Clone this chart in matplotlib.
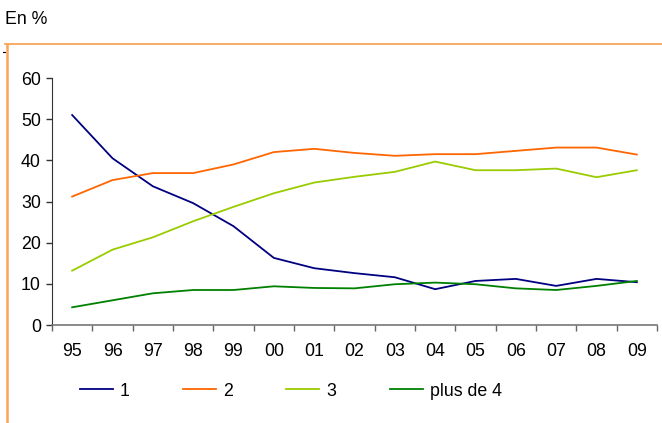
import matplotlib
matplotlib.use("Agg")
import matplotlib.pyplot as plt
from matplotlib.lines import Line2D
import numpy as np

years = ["95", "96", "97", "98", "99", "00", "01", "02", "03", "04", "05", "06", "07", "08", "09"]
s1 = [51.0, 40.5, 33.7, 29.6, 24.0, 16.3, 13.8, 12.6, 11.6, 8.7, 10.7, 11.2, 9.5, 11.2, 10.4]
s2 = [31.2, 35.2, 36.9, 36.9, 39.0, 42.0, 42.8, 41.8, 41.1, 41.5, 41.5, 42.3, 43.1, 43.1, 41.4]
s3 = [13.2, 18.3, 21.3, 25.2, 28.7, 32.0, 34.6, 36.0, 37.2, 39.7, 37.6, 37.6, 38.0, 35.9, 37.6]
s4 = [4.3, 6.0, 7.7, 8.5, 8.5, 9.4, 9.0, 8.9, 9.9, 10.3, 9.9, 8.9, 8.5, 9.5, 10.7]
labels = ["1", "2", "3", "plus de 4"]
colors = ["#000080", "#FF6600", "#99CC00", "#008000"]
yticks = [0, 10, 20, 30, 40, 50, 60]

plt.rcParams["font.family"] = ["Liberation Sans", "DejaVu Sans"]
FS = 12.8
W, H = 662, 423
fig = plt.figure(figsize=(W / 100, H / 100), dpi=100)

ax = fig.add_axes([52 / W, 1 - 325 / H, (657 - 52) / W, (325 - 78) / H])
x = np.arange(len(years))
for s, c, lab in zip([s1, s2, s3, s4], colors, labels):
    ax.plot(x, s, color=c, lw=1.3, label=lab)

ax.set_xlim(-0.5, len(years) - 0.5)
ax.set_ylim(0, 60)
ax.set_yticks(yticks)
ax.set_yticklabels([str(v) for v in yticks], fontsize=FS)
ax.set_xticks(np.arange(len(years) + 1) - 0.5)
ax.set_xticklabels([])
ax.set_xticks(x, minor=True)
ax.set_xticklabels(years, minor=True, fontsize=FS)
ax.tick_params(axis="x", which="minor", length=0, pad=13)
ax.tick_params(axis="x", which="major", length=4, color="#666666", width=1)
ax.tick_params(axis="y", length=4, color="#333333", width=1, pad=4)
for sp in ["top", "right"]:
    ax.spines[sp].set_visible(False)
ax.spines["left"].set_color("#333333")
ax.spines["bottom"].set_color("#777777")
ax.spines["bottom"].set_linewidth(1.2)

fig.text(5 / W, 1 - 20 / H, "En %", fontsize=FS, va="center", ha="left")

# frame around the chart block
frame_col = "#F9A55A"
fig.add_artist(Line2D([5 / W, 1.0], [1 - 44 / H, 1 - 44 / H], color=frame_col, lw=1.3))
fig.add_artist(Line2D([7 / W, 7 / W], [1 - 44 / H, 0.0], color=frame_col, lw=1.8))
fig.add_artist(Line2D([3 / W, 5 / W], [1 - 52 / H, 1 - 52 / H], color="black", lw=0.8))

fig.legend(loc="center left", bbox_to_anchor=(80 / W, 1 - 391 / H), ncol=4,
           frameon=False, fontsize=FS, handlelength=1.85, handletextpad=0.4,
           columnspacing=3.0, borderpad=0, borderaxespad=0)

fig.savefig("out.png", dpi=100)
